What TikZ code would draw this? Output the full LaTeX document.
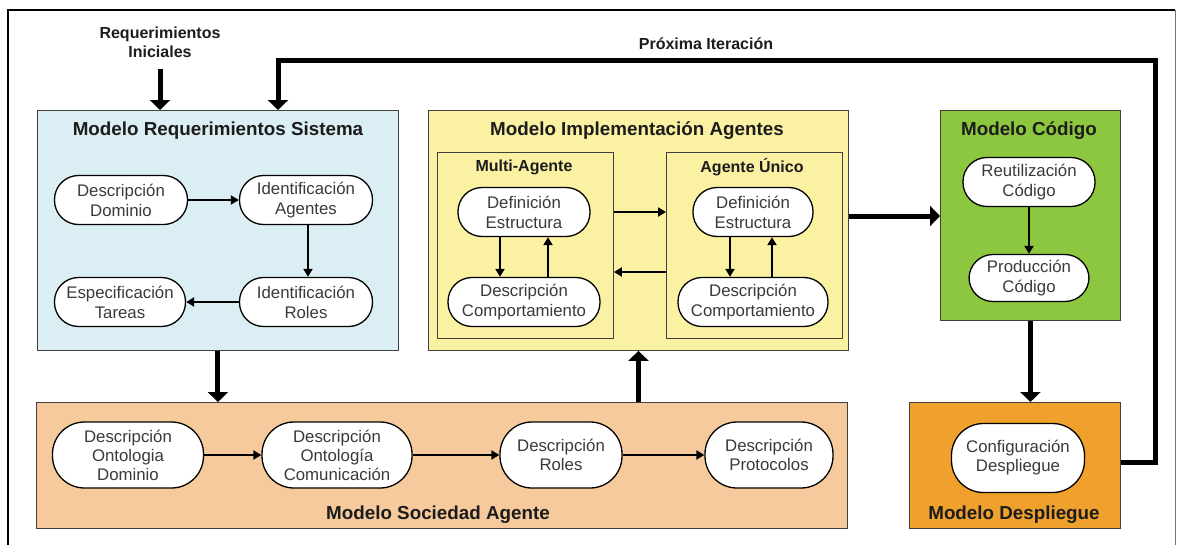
\documentclass[tikz,border=0pt]{standalone}
\usepackage{fontspec}
\setmainfont{Liberation Sans}
\usetikzlibrary{arrows.meta}
\definecolor{reqfill}{HTML}{DAEEF3}
\definecolor{impfill}{HTML}{FBF1A3}
\definecolor{codfill}{HTML}{8DC63F}
\definecolor{socfill}{HTML}{F6CA9C}
\definecolor{depfill}{HTML}{F0A02D}
\definecolor{nodetext}{HTML}{3A3A3A}
\definecolor{titletext}{HTML}{1C1C1C}
\begin{document}
\begin{tikzpicture}[x=1pt,y=-1pt,
  panel/.style={draw=black!75, line width=0.9pt, anchor=north west, inner sep=0pt},
  ptitle/.style={font=\fontsize{18.8}{22}\selectfont\bfseries, text=titletext},
  subtitle/.style={font=\fontsize{16}{19}\selectfont\bfseries, text=titletext},
  label/.style={font=\fontsize{16}{19}\selectfont\bfseries, text=titletext, align=center},
  stadium/.style={draw=black, line width=1.3pt, fill=white, align=center,
    font=\fontsize{16.8}{20}\selectfont, text=nodetext, inner sep=1pt,
    rounded corners=24pt, minimum height=49pt},
  tallstadium/.style={stadium, rounded corners=32pt, minimum height=66pt,
    font=\fontsize{16.8}{19}\selectfont},
  arr/.style={-{Triangle[width=9pt,length=8pt]}, line width=2pt},
  bigarrow/.style={-{Triangle[width=20pt,length=10pt]}, line width=5pt},
  bigline/.style={line width=5pt}]
\useasboundingbox (0,0) rectangle (1179,544);
\clip (0,0) rectangle (1179,544);

% outer frame (open at the bottom edge)
\draw[line width=1.4pt] (8,560) -- (8,10) -- (1175,10);
\draw[line width=1pt, black!55] (1175,10) -- (1175,560);

% panels
\node[panel, fill=reqfill, minimum width=361pt, minimum height=240pt] (req) at (37,110) {};
\node[panel, fill=impfill, minimum width=420pt, minimum height=240pt] (imp) at (428,110) {};
\node[panel, fill=impfill, minimum width=176pt, minimum height=186pt] (ma) at (437,152) {};
\node[panel, fill=impfill, minimum width=176pt, minimum height=186pt] (au) at (666,152) {};
\node[panel, fill=codfill, minimum width=180pt, minimum height=210pt] (cod) at (940,110) {};
\node[panel, fill=socfill, minimum width=811pt, minimum height=126pt] (soc) at (36,402) {};
\node[panel, fill=depfill, minimum width=211pt, minimum height=126pt] (dep) at (909,402) {};

% panel titles
\node[ptitle] (reqT) at (218,131) {Modelo Requerimientos Sistema};
\node[ptitle] (impT) at (637,131) {Modelo Implementación Agentes};
\node[ptitle] (codT) at (1029,131) {Modelo Código};
\node[subtitle] (maT) at (524,167) {Multi-Agente};
\node[subtitle] (auT) at (752,167) {Agente Único};
\node[ptitle] (socT) at (438,515) {Modelo Sociedad Agente};
\node[ptitle] (depT) at (1014,515) {Modelo Despliegue};

% outside labels
\node[label] (ri) at (160,42) {Requerimientos\\Iniciales};
\node[label] (pi) at (706,44) {Próxima Iteración};

% requirements model
\node[stadium, minimum width=133pt] (dd) at (121,200) {Descripción\\Dominio};
\node[stadium, minimum width=133pt] (ia) at (306,200) {Identificación\\Agentes};
\node[stadium, minimum width=131pt] (et) at (120,302) {Especificación\\Tareas};
\node[stadium, minimum width=133pt] (ir) at (306,302) {Identificación\\Roles};

% implementation model
\node[stadium, minimum width=132pt] (mas) at (524,212) {Definición\\Estructura};
\node[stadium, minimum width=152pt] (mac) at (524,302) {Descripción\\Comportamiento};
\node[stadium, minimum width=120pt] (aus) at (753,212) {Definición\\Estructura};
\node[stadium, minimum width=150pt] (auc) at (753,302) {Descripción\\Comportamiento};

% code model
\node[stadium, minimum width=132pt] (rc) at (1029,182) {Reutilización\\Código};
\node[stadium, minimum width=120pt, minimum height=47pt] (pc) at (1029,278) {Producción\\Código};

% agent society model
\node[tallstadium, minimum width=151pt] (so1) at (128,455) {Descripción\\Ontologia\\Dominio};
\node[tallstadium, minimum width=150pt] (so2) at (337,455) {Descripción\\Ontología\\Comunicación};
\node[tallstadium, minimum width=122pt] (so3) at (561,455) {Descripción\\Roles};
\node[tallstadium, minimum width=128pt] (so4) at (769,455) {Descripción\\Protocolos};

% deployment model
\node[tallstadium, minimum width=133pt, minimum height=69pt] (cd) at (1018,458) {Configuración\\Despliegue};

% helper rows
\coordinate (rowA) at (0,212);
\coordinate (rowB) at (0,272);
\coordinate (rowC) at (0,216);
\coordinate (loopTL) at (278,60);
\coordinate (loopTR) at (1155,60);

% connectors inside the panels
\draw[arr] (dd) -- (ia);
\draw[arr] ([xshift=2pt]ia.south) -- ([xshift=2pt]ir.north);
\draw[arr] (ir) -- (et);
\draw[arr] ([xshift=-24pt]mas.south) -- ([xshift=-24pt]mas.south |- mac.north);
\draw[arr] ([xshift=24pt]mac.north) -- ([xshift=24pt]mac.north |- mas.south);
\draw[arr] ([xshift=-23pt]aus.south) -- ([xshift=-23pt]aus.south |- auc.north);
\draw[arr] ([xshift=19pt]auc.north) -- ([xshift=19pt]auc.north |- aus.south);
\draw[arr] (ma.east |- rowA) -- (au.west |- rowA);
\draw[arr] (au.west |- rowB) -- (ma.east |- rowB);
\draw[arr] (rc) -- (pc);
\draw[arr] (so1) -- (so2);
\draw[arr] (so2) -- (so3);
\draw[arr] (so3) -- (so4);

% connectors between the models
\draw[bigarrow] ([yshift=-8pt]ri.south) -- (ri.south |- req.north);
\draw[bigarrow] (req.south) -- (req.south |- soc.north);
\draw[bigarrow] (soc.north -| imp.south) -- (imp.south);
\draw[bigarrow] (imp.east |- rowC) -- (cod.west |- rowC);
\draw[bigarrow] (cod.south) -- (cod.south |- dep.north);
\draw[bigarrow] ([yshift=3pt]dep.east) -| (loopTR) -- (loopTL) -- (loopTL |- req.north);
\end{tikzpicture}
\end{document}
